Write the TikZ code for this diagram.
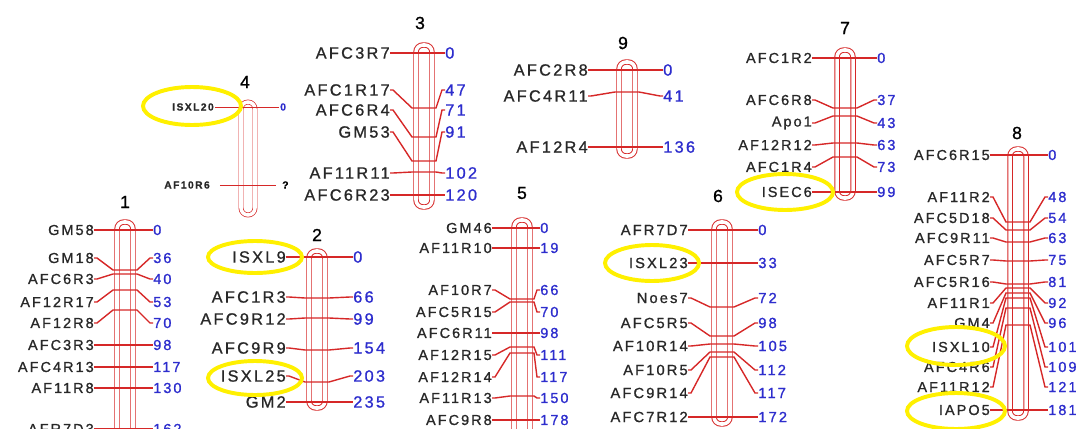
\documentclass[tikz,border=0pt]{standalone}
\usepackage{fontspec}
\setmainfont{Liberation Sans}
\newfontfamily\lblfont[LetterSpace=14, FakeBold=1]{Liberation Sans}
\definecolor{linkred}{RGB}{214,40,40}
\definecolor{numblue}{RGB}{45,45,205}
\definecolor{lblgray}{RGB}{40,40,40}
\definecolor{hiyellow}{RGB}{255,240,0}
\tikzset{
  lbl/.style={font=\lblfont\fontsize{\chfs}{\chfs}\selectfont, text=lblgray, inner sep=0pt, anchor=east},
  num/.style={font=\lblfont\fontsize{\chfs}{\chfs}\selectfont, text=numblue, inner sep=0pt, anchor=west},
  tiny/.style={font=\lblfont\bfseries\fontsize{7.3}{7.3}\selectfont},
  link/.style={draw=linkred, line width=1pt},
  chrbar/.style={draw=linkred, line width=0.7pt, double=white, double distance=2.5pt, rounded corners=5pt},
  chrtitle/.style={font=\lblfont\fontsize{12.5}{12.5}\selectfont, inner sep=0pt},
  hilite/.style={draw=hiyellow, line width=2.8pt},
}
\newcommand{\chfs}{10.3}
% name, centre x, top, bottom, label end, number start, font size, markers
\newcommand{\chrom}[8]{%
  \renewcommand{\chfs}{#7}%
  \draw[chrbar] (#2-8,#3) rectangle (#2+8,#4);
  \foreach \mkname/\mkpos/\ly/\cy [count=\k] in {#8} {
    \node[lbl] (#1l\k) at (#5,\ly) {\mkname};
    \node[num] (#1r\k) at (#6,\ly) {\mkpos};
    \draw[link] (#1l\k.east) -- (#5+3,\ly) -- (#2-12,\cy) -- (#2+12,\cy) -- (#6-3,\ly) -- (#1r\k.west);
  }
}
\begin{document}
\begin{tikzpicture}[x=0.025cm, y=-0.025cm]
  \useasboundingbox (0,0) rectangle (1086,428);
  \clip (0,0) rectangle (1086,428);

  % Chromosome 1
  \node[chrtitle] (t1) at (125,202) {1};
  \chrom{c1}{125}{222}{450}{94}{153}{10.3}{GM58/0/230/230, GM18/36/258/270, AFC6R3/40/279/274,
    AF12R17/53/302/290, AF12R8/70/323/310, AFC3R3/98/345/345, AFC4R13/117/367/367,
    AF11R8/130/388/388, AFR7D3/162/429/429}

  % Chromosome 2
  \node[chrtitle] (t2) at (317,235) {2};
  \chrom{c2}{317}{251}{408}{286}{353}{11.6}{ISXL9/0/257/257, AFC1R3/66/297/298, AFC9R12/99/319/318,
    AFC9R9/154/348/350, ISXL25/203/376/382, GM2/235/402/402}

  % Chromosome 3
  \node[chrtitle] (t3) at (420,23) {3};
  \chrom{c3}{424}{45}{207}{390}{445}{11.6}{AFC3R7/0/53/53, AFC1R17/47/90/108, AFC6R4/71/110/137,
    GM53/91/132/161, AF11R11/102/173/172, AFC6R23/120/195/195}

  % Chromosome 4
  \node[chrtitle] (t4) at (245,82) {4};
  \draw[chrbar, line width=0.5pt] (241,102) rectangle (255,215);
  \node[tiny, text=lblgray, anchor=east, inner sep=0pt] (c4l1) at (214,107) {ISXL20};
  \node[tiny, text=numblue, anchor=west, inner sep=0pt] (c4r1) at (280,107) {0};
  \draw[link, line width=0.6pt, shorten <=1pt, shorten >=1pt] (c4l1.east) -- (c4r1.west);
  \node[tiny, text=lblgray, anchor=east, inner sep=0pt] (c4l2) at (210,185) {AF10R6};
  \node[tiny, text=black, anchor=west, inner sep=0pt] (c4r2) at (282,185) {?};
  \draw[link, line width=0.6pt, shorten <=7pt, shorten >=4pt] (c4l2.east) -- (c4r2.west);

  % Chromosome 5
  \node[chrtitle] (t5) at (522,193) {5};
  \chrom{c5}{522}{220}{450}{492}{540}{10.3}{GM46/0/228/228, AF11R10/19/248/248, AF10R7/66/290/299,
    AFC5R15/70/312/302, AFC6R11/98/333/333, AF12R15/111/355/347, AF12R14/117/377/353,
    AF11R13/150/398/396, AFC9R8/178/420/420}

  % Chromosome 6
  \node[chrtitle] (t6) at (718,196) {6};
  \chrom{c6}{722}{222}{424}{688}{758}{10.5}{AFR7D7/0/230/230, ISXL23/33/263/263, Noes7/72/298/307,
    AFC5R5/98/323/336, AF10R14/105/346/344, AF10R5/112/370/352, AFC9R14/117/393/357,
    AFC7R12/172/417/417}

  % Chromosome 7
  \node[chrtitle] (t7) at (845,28) {7};
  \chrom{c7}{845}{50}{198}{812}{877}{10.3}{AFC1R2/0/58/58, AFC6R8/37/100/108, Apo1/43/123/116,
    AF12R12/63/145/143, AFC1R4/73/167/157, ISEC6/99/192/192}

  % Chromosome 8
  \node[chrtitle] (t8) at (1017,133) {8};
  \chrom{c8}{1018}{149}{418}{990}{1048}{10.3}{AFC6R15/0/155/155, AF11R2/48/197/222, AFC5D18/54/218/230,
    AFC9R11/63/238/242, AFC5R7/75/260/261, AFC5R16/81/282/284, AF11R1/92/303/288,
    GM4/96/323/293, ISXL10/101/347/298, AFC4R6/109/367/308, AF11R12/121/387/325,
    IAPO5/181/410/410}

  % Chromosome 9
  \node[chrtitle] (t9) at (623,43) {9};
  \chrom{c9}{627}{62}{156}{588}{663}{11.6}{AFC2R8/0/70/70, AFC4R11/41/96/92, AF12R4/136/147/147}

  % highlighted markers
  \draw[hilite] (192,106) ellipse [x radius=49, y radius=19];
  \draw[hilite] (255,257) ellipse [x radius=47, y radius=16];
  \draw[hilite] (255,378) ellipse [x radius=47, y radius=17];
  \draw[hilite] (652,263) ellipse [x radius=47, y radius=18];
  \draw[hilite] (785,192) ellipse [x radius=48, y radius=18];
  \draw[hilite] (956,346) ellipse [x radius=49, y radius=19];
  \draw[hilite] (956,411) ellipse [x radius=49, y radius=18];
\end{tikzpicture}
\end{document}
